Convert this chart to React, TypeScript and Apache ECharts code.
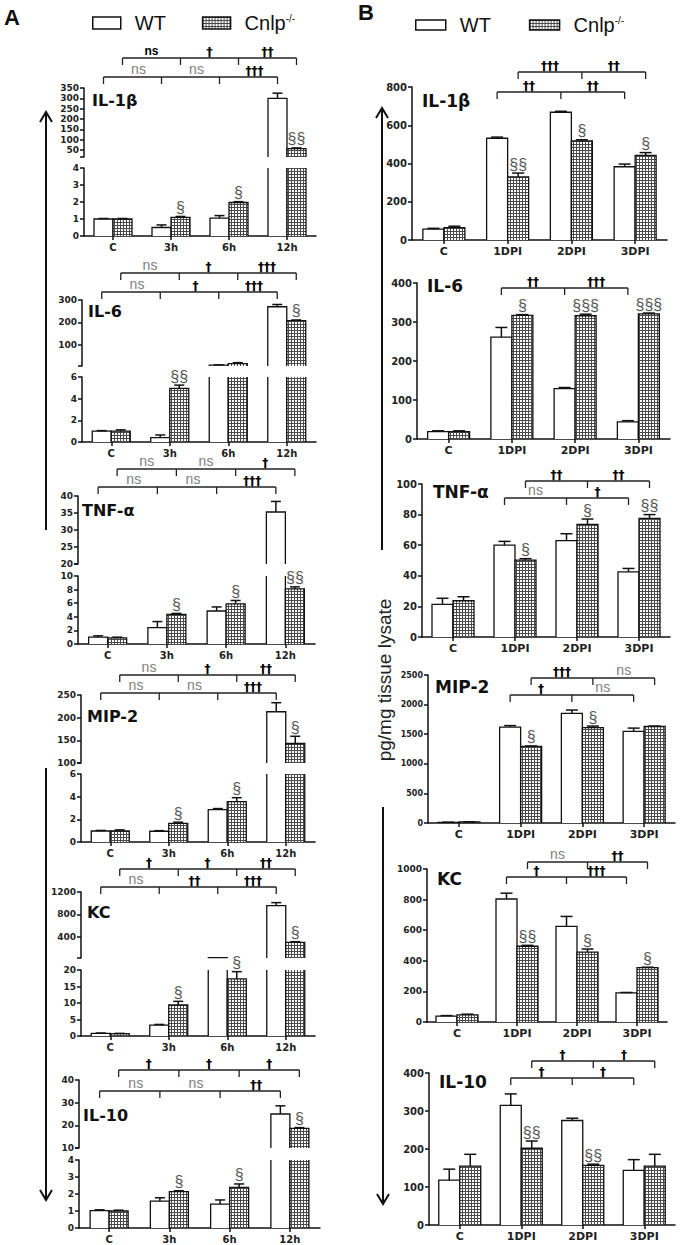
import React, { useEffect, useRef } from 'react';
import * as echarts from 'echarts';

// ---------------- categories ----------------
const catsA = ['C', '3h', '6h', '12h'];
const catsB = ['C', '1DPI', '2DPI', '3DPI'];

// ---------------- Panel A values ----------------
const aIl1bWT = [1.0, 0.5, 1.05, 300];
const aIl1bWTErr = [0.03, 0.15, 0.15, 25];
const aIl1bKO = [1.0, 1.1, 1.97, 57];
const aIl1bKOErr = [0.03, 0.05, 0.05, 3];
const aIl1bSig = ['', '§', '§', '§§'];
const aIl1bUpper = ['ns', '†', '††'];
const aIl1bLower = ['ns', 'ns', '†††'];
const aIl1bTicksU = [50, 100, 150, 200, 250, 300, 350];
const aIl1bTicksL = [0, 1, 2, 3, 4];

const aIl6WT = [1.0, 0.4, 10, 270];
const aIl6WTErr = [0.05, 0.25, 1, 10];
const aIl6KO = [1.0, 4.95, 17, 208];
const aIl6KOErr = [0.12, 0.3, 4, 3];
const aIl6Sig = ['', '§§', '', '§'];
const aIl6Upper = ['ns', '†', '†††'];
const aIl6Lower = ['ns', '†', '†††'];
const aIl6TicksU = [100, 200, 300];
const aIl6TicksL = [0, 2, 4, 6];

const aTnfWT = [1.0, 2.4, 4.85, 35.3];
const aTnfWTErr = [0.2, 0.9, 0.6, 3.1];
const aTnfKO = [0.9, 4.35, 5.9, 8.1];
const aTnfKOErr = [0.1, 0.15, 0.5, 0.3];
const aTnfSig = ['', '§', '§', '§§'];
const aTnfUpper = ['ns', 'ns', '†'];
const aTnfLower = ['ns', 'ns', '†††'];
const aTnfTicksU = [20, 25, 30, 35, 40];
const aTnfTicksL = [0, 2, 4, 6, 8, 10];

const aMip2WT = [0.97, 0.95, 2.85, 213];
const aMip2WTErr = [0.05, 0.05, 0.1, 20];
const aMip2KO = [0.97, 1.65, 3.56, 143];
const aMip2KOErr = [0.1, 0.1, 0.35, 16];
const aMip2Sig = ['', '§', '§', '§'];
const aMip2Upper = ['ns', '†', '††'];
const aMip2Lower = ['ns', 'ns', '†††'];
const aMip2TicksU = [100, 150, 200, 250];
const aMip2TicksL = [0, 2, 4, 6];

const aKcWT = [0.8, 3.3, 25, 955];
const aKcWTErr = [0.1, 0.2, 0, 55];
const aKcKO = [0.7, 9.4, 17.3, 300];
const aKcKOErr = [0.1, 1.1, 2.2, 12];
const aKcSig = ['', '§', '§', '§'];
const aKcUpper = ['†', '†', '††'];
const aKcLower = ['ns', '††', '†††'];
const aKcTicksU = [400, 800, 1200];
const aKcTicksL = [0, 5, 10, 15, 20];

const aIl10WT = [1.02, 1.58, 1.4, 25];
const aIl10WTErr = [0.05, 0.2, 0.25, 3.6];
const aIl10KO = [1.0, 2.14, 2.39, 18.7];
const aIl10KOErr = [0.05, 0.05, 0.2, 0.3];
const aIl10Sig = ['', '§', '§', '§'];
const aIl10Upper = ['†', '†', '†'];
const aIl10Lower = ['ns', 'ns', '††'];
const aIl10TicksU = [10, 20, 30, 40];
const aIl10TicksL = [0, 1, 2, 3, 4];

// ---------------- Panel B values ----------------
const bIl1bWT = [57, 532, 668, 383];
const bIl1bWTErr = [4, 6, 5, 14];
const bIl1bKO = [65, 330, 518, 442];
const bIl1bKOErr = [7, 20, 6, 15];
const bIl1bSig = ['', '§§', '§', '§'];
const bIl1bUpper = ['†††', '††'];
const bIl1bLower = ['††', '††'];
const bIl1bTicks = [0, 200, 400, 600, 800];

const bIl6WT = [19, 261, 129, 44];
const bIl6WTErr = [2, 25, 3, 3];
const bIl6KO = [19, 317, 316, 321];
const bIl6KOErr = [2, 2, 4, 2];
const bIl6Sig = ['', '§', '§§§', '§§§'];
const bIl6Lower = ['††', '†††'];
const bIl6Ticks = [0, 100, 200, 300, 400];

const bTnfWT = [21.3, 60, 63, 42.6];
const bTnfWTErr = [4, 2.5, 4.5, 2.2];
const bTnfKO = [23.7, 50.2, 73.6, 77.5];
const bTnfKOErr = [2.6, 1, 3.5, 2.5];
const bTnfSig = ['', '§', '§', '§§'];
const bTnfUpper = ['††', '††'];
const bTnfLower = ['ns', '†'];
const bTnfTicks = [0, 20, 40, 60, 80, 100];

const bMip2WT = [12, 1620, 1853, 1548];
const bMip2WTErr = [2, 25, 55, 55];
const bMip2KO = [18, 1293, 1612, 1630];
const bMip2KOErr = [3, 8, 25, 8];
const bMip2Sig = ['', '§', '§', ''];
const bMip2Upper = ['†††', 'ns'];
const bMip2Lower = ['†', 'ns'];
const bMip2Ticks = [0, 500, 1000, 1500, 2000, 2500];

const bKcWT = [39, 804, 625, 190];
const bKcWTErr = [3, 38, 65, 3];
const bKcKO = [46, 495, 457, 355];
const bKcKOErr = [5, 6, 20, 3];
const bKcSig = ['', '§§', '§', '§'];
const bKcUpper = ['ns', '††'];
const bKcLower = ['†', '†††'];
const bKcTicks = [0, 200, 400, 600, 800, 1000];

const bIl10WT = [118, 315, 275, 144];
const bIl10WTErr = [29, 30, 6, 28];
const bIl10KO = [155, 202, 157, 155];
const bIl10KOErr = [31, 19, 3, 31];
const bIl10Sig = ['', '§§', '§§', ''];
const bIl10Upper = ['†', '†'];
const bIl10Lower = ['†', '†'];
const bIl10Ticks = [0, 100, 200, 300, 400];

// ---------------- chart definitions ----------------
const chartsA = [
  { title: 'IL-1β', wt: aIl1bWT, wtErr: aIl1bWTErr, ko: aIl1bKO, koErr: aIl1bKOErr, sig: aIl1bSig, upper: aIl1bUpper, lower: aIl1bLower, strong: [0], tU: aIl1bTicksU, tL: aIl1bTicksL },
  { title: 'IL-6', wt: aIl6WT, wtErr: aIl6WTErr, ko: aIl6KO, koErr: aIl6KOErr, sig: aIl6Sig, upper: aIl6Upper, lower: aIl6Lower, strong: [], tU: aIl6TicksU, tL: aIl6TicksL },
  { title: 'TNF-α', wt: aTnfWT, wtErr: aTnfWTErr, ko: aTnfKO, koErr: aTnfKOErr, sig: aTnfSig, upper: aTnfUpper, lower: aTnfLower, strong: [], tU: aTnfTicksU, tL: aTnfTicksL },
  { title: 'MIP-2', wt: aMip2WT, wtErr: aMip2WTErr, ko: aMip2KO, koErr: aMip2KOErr, sig: aMip2Sig, upper: aMip2Upper, lower: aMip2Lower, strong: [], tU: aMip2TicksU, tL: aMip2TicksL },
  { title: 'KC', wt: aKcWT, wtErr: aKcWTErr, ko: aKcKO, koErr: aKcKOErr, sig: aKcSig, upper: aKcUpper, lower: aKcLower, strong: [], tU: aKcTicksU, tL: aKcTicksL },
  { title: 'IL-10', wt: aIl10WT, wtErr: aIl10WTErr, ko: aIl10KO, koErr: aIl10KOErr, sig: aIl10Sig, upper: aIl10Upper, lower: aIl10Lower, strong: [], tU: aIl10TicksU, tL: aIl10TicksL },
];

const chartsB = [
  { title: 'IL-1β', wt: bIl1bWT, wtErr: bIl1bWTErr, ko: bIl1bKO, koErr: bIl1bKOErr, sig: bIl1bSig, upper: bIl1bUpper, lower: bIl1bLower, ticks: bIl1bTicks },
  { title: 'IL-6', wt: bIl6WT, wtErr: bIl6WTErr, ko: bIl6KO, koErr: bIl6KOErr, sig: bIl6Sig, upper: null, lower: bIl6Lower, ticks: bIl6Ticks },
  { title: 'TNF-α', wt: bTnfWT, wtErr: bTnfWTErr, ko: bTnfKO, koErr: bTnfKOErr, sig: bTnfSig, upper: bTnfUpper, lower: bTnfLower, ticks: bTnfTicks },
  { title: 'MIP-2', wt: bMip2WT, wtErr: bMip2WTErr, ko: bMip2KO, koErr: bMip2KOErr, sig: bMip2Sig, upper: bMip2Upper, lower: bMip2Lower, ticks: bMip2Ticks },
  { title: 'KC', wt: bKcWT, wtErr: bKcWTErr, ko: bKcKO, koErr: bKcKOErr, sig: bKcSig, upper: bKcUpper, lower: bKcLower, ticks: bKcTicks },
  { title: 'IL-10', wt: bIl10WT, wtErr: bIl10WTErr, ko: bIl10KO, koErr: bIl10KOErr, sig: bIl10Sig, upper: bIl10Upper, lower: bIl10Lower, ticks: bIl10Ticks },
];

// ---------------- layout (pixels) ----------------
const layoutA = [
  { left: 84, right: 316, tx: 92, ty: 102, brk: [58, 77], segs: [{ top: 88, bottom: 157, min: 16, max: 350 }, { top: 168, bottom: 236, min: 0, max: 4 }] },
  { left: 82, right: 316, tx: 88, ty: 313, brk: [273, 292], segs: [{ top: 300, bottom: 366, min: 6, max: 300 }, { top: 377, bottom: 442, min: 0, max: 6 }] },
  { left: 78, right: 315, tx: 82, ty: 512, brk: [469, 487], segs: [{ top: 496, bottom: 564, min: 20, max: 40 }, { top: 576, bottom: 644, min: 0, max: 10 }] },
  { left: 81, right: 315, tx: 87, ty: 718, brk: [675, 693], segs: [{ top: 695, bottom: 763, min: 100, max: 250 }, { top: 774, bottom: 842, min: 0, max: 6 }] },
  { left: 81, right: 315, tx: 87, ty: 914, brk: [869, 887], segs: [{ top: 892, bottom: 958, min: 20, max: 1200 }, { top: 970, bottom: 1036, min: 0, max: 20 }] },
  { left: 79, right: 320, tx: 83, ty: 1117, brk: [1070, 1091], segs: [{ top: 1080, bottom: 1148, min: 10, max: 40 }, { top: 1160, bottom: 1228, min: 0, max: 4 }] },
];

const layoutB = [
  { left: 412, right: 667, tx: 422, ty: 102, brk: [72, 92], fs: 10, seg: { top: 87, bottom: 240, min: 0, max: 800 } },
  { left: 417, right: 670, tx: 427, ty: 287, brk: [0, 288], fs: 10, seg: { top: 283, bottom: 439, min: 0, max: 400 } },
  { left: 422, right: 670, tx: 433, ty: 493, brk: [481, 498], fs: 10, seg: { top: 484, bottom: 637, min: 0, max: 100 } },
  { left: 428, right: 675, tx: 435, ty: 688, brk: [678, 695], fs: 8, seg: { top: 675, bottom: 823, min: 0, max: 2500 } },
  { left: 427, right: 667, tx: 437, ty: 880, brk: [862, 877], fs: 9, seg: { top: 869, bottom: 1022, min: 0, max: 1000 } },
  { left: 429, right: 675, tx: 439, ty: 1083, brk: [1061, 1078], fs: 10, seg: { top: 1073, bottom: 1225, min: 0, max: 400 } },
];

const FONT_AX = 'DejaVu Sans';
const FONT_TXT = 'Liberation Sans';
const INK = '#111';

function makePattern(): any {
  const c = document.createElement('canvas');
  c.width = 3;
  c.height = 3;
  const ctx = c.getContext('2d') as CanvasRenderingContext2D;
  ctx.fillStyle = '#ffffff';
  ctx.fillRect(0, 0, 3, 3);
  ctx.fillStyle = '#4a4a4a';
  ctx.fillRect(0, 0, 3, 1);
  ctx.fillRect(0, 0, 1, 3);
  return { image: c.toDataURL(), repeat: 'repeat', imageWidth: 3, imageHeight: 3 };
}

function txt(text: string, x: number, y: number, o: any) {
  return {
    type: 'text', x, y,
    style: Object.assign({ text, fill: INK, fontFamily: FONT_TXT, fontSize: 12, align: 'center', textAlign: 'center', verticalAlign: 'bottom', textVerticalAlign: 'bottom' }, o),
  };
}

function barSeries(name: string, gi: number, vals: number[], errs: number[], sigs: string[] | null, side: number, seg: any, fill: any, bw: number, cap: number) {
  return {
    type: 'custom', name, xAxisIndex: gi, yAxisIndex: gi, silent: true,
    itemStyle: { color: fill, borderColor: INK, borderWidth: 1.3 },
    data: vals.map((v, i) => [i, v, errs[i]]),
    encode: { x: 0, y: 1 },
    renderItem: (params: any, api: any) => {
      const i = api.value(0);
      const v = api.value(1);
      const e = api.value(2);
      if (!(v > seg.min)) return null;
      const base = Math.max(seg.min, 0);
      const top = Math.min(v, seg.max);
      const pb = api.coord([i, base]);
      const pt = api.coord([i, top]);
      const cx = pb[0] + side * bw / 2;
      const x0 = cx - bw / 2;
      const x1 = cx + bw / 2;
      const ln = { stroke: INK, lineWidth: 1.3 };
      const children: any[] = [
        { type: 'rect', shape: { x: x0, y: pt[1], width: bw, height: pb[1] - pt[1] }, style: { fill, stroke: null } },
      ];
      if (v <= seg.max) {
        children.push({ type: 'polyline', shape: { points: [[x0, pb[1]], [x0, pt[1]], [x1, pt[1]], [x1, pb[1]]] }, style: { stroke: INK, lineWidth: 1.3, fill: null } });
        let yTop = pt[1];
        if (e > 0) {
          const pe = api.coord([i, Math.min(v + e, seg.max)]);
          children.push({ type: 'line', shape: { x1: cx, y1: pt[1], x2: cx, y2: pe[1] }, style: { stroke: INK, lineWidth: 1.5 } });
          children.push({ type: 'line', shape: { x1: cx - cap, y1: pe[1], x2: cx + cap, y2: pe[1] }, style: { stroke: INK, lineWidth: 1.5 } });
          yTop = pe[1];
        }
        const s = sigs ? sigs[i] : '';
        if (s) children.push(txt(s, cx, yTop - 1, { fill: '#555', fontSize: 16 }));
      } else {
        children.push({ type: 'line', shape: { x1: x0, y1: pb[1], x2: x0, y2: pt[1] }, style: ln });
        children.push({ type: 'line', shape: { x1: x1, y1: pb[1], x2: x1, y2: pt[1] }, style: ln });
      }
      return { type: 'group', children };
    },
  };
}

function bracketSeries(gi: number, seg: any, specs: any[], bw: number) {
  return {
    type: 'custom', xAxisIndex: gi, yAxisIndex: gi, silent: true,
    itemStyle: { color: INK },
    data: specs.map((_, k) => [k, seg.min]),
    renderItem: (params: any, api: any) => {
      const b = specs[params.dataIndex];
      const xs = b.cats.map((c: number) => api.coord([c, seg.min])[0] + b.side * bw / 2);
      const st = { stroke: '#222', lineWidth: 1.3 };
      const children: any[] = [
        { type: 'line', shape: { x1: xs[0], y1: b.y, x2: xs[xs.length - 1], y2: b.y }, style: st },
      ];
      xs.forEach((x: number) => children.push({ type: 'line', shape: { x1: x, y1: b.y, x2: x, y2: b.y + 7 }, style: st }));
      b.labels.forEach((t: string, k: number) => {
        const mx = (xs[k] + xs[k + 1]) / 2 + (b.dx || 0);
        const strong = b.strong && b.strong.indexOf(k) >= 0;
        if (t === 'ns' && !strong) {
          children.push(txt(t, mx, b.y - 1, { fill: '#808080', fontSize: 14 }));
        } else if (t === 'ns') {
          children.push(txt(t, mx, b.y - 1, { fill: '#000', fontSize: 12, fontWeight: 'bold' }));
        } else {
          children.push(txt(t, mx, b.y, { fill: '#000', fontSize: 12, fontWeight: 'bold', fontFamily: FONT_AX }));
        }
      });
      return { type: 'group', children };
    },
  };
}

function buildOption() {
  const pattern = makePattern();
  const grids: any[] = [];
  const xAxes: any[] = [];
  const yAxes: any[] = [];
  const series: any[] = [];
  const titles: any[] = [
    { text: 'A', left: 4, top: 6, padding: 0, textStyle: { fontSize: 22, fontWeight: 'bold', fontFamily: FONT_TXT, color: INK } },
    { text: 'B', left: 358, top: 1, padding: 0, textStyle: { fontSize: 22, fontWeight: 'bold', fontFamily: FONT_TXT, color: INK } },
  ];
  let g = 0;

  const axisLineCfg = { show: true, onZero: false, lineStyle: { color: INK, width: 1.5 } };
  const tickCfg = (vals: number[]) => ({ show: true, length: 4, inside: false, lineStyle: { color: INK, width: 1.5 }, customValues: vals });
  const plain = (v: number) => String(v);

  const addGrid = (left: number, right: number, seg: any, cats: string[], showX: boolean, labels: number[], ticks: number[], yfs: number, xfs: number) => {
    grids.push({ left, top: seg.top, width: right - left, height: seg.bottom - seg.top, containLabel: false, outerBoundsMode: 'none' });
    xAxes.push({
      gridIndex: g, type: 'category', data: cats, show: showX,
      axisLine: axisLineCfg,
      axisTick: { show: true, alignWithLabel: true, length: 4, lineStyle: { color: INK, width: 1.5 } },
      axisLabel: { interval: 0, fontSize: xfs, fontWeight: 'bold', fontFamily: FONT_AX, color: '#222', margin: 6 },
      splitLine: { show: false },
    });
    yAxes.push({
      gridIndex: g, type: 'value', min: seg.min, max: seg.max,
      axisLine: axisLineCfg,
      axisTick: tickCfg(ticks),
      axisLabel: { customValues: labels, formatter: plain, fontSize: yfs, fontWeight: 'bold', fontFamily: FONT_AX, color: '#222', margin: 5 },
      splitLine: { show: false },
    });
    return g++;
  };

  chartsA.forEach((c, ci) => {
    const L = layoutA[ci];
    const [su, sl] = L.segs;
    const gu = addGrid(L.left, L.right, su, catsA, false, c.tU, [su.min, ...c.tU], 9, 10);
    const gl = addGrid(L.left, L.right, sl, catsA, true, c.tL, c.tL, 9, 10);
    [[gu, su], [gl, sl]].forEach(([gi, seg]: any) => {
      series.push(barSeries('WT', gi, c.wt, c.wtErr, null, -1, seg, '#ffffff', 19, 5));
      series.push(barSeries('Cnlp-/-', gi, c.ko, c.koErr, c.sig, 1, seg, pattern, 19, 5));
    });
    series.push(bracketSeries(gu, su, [
      { side: 1, cats: [0, 1, 2, 3], y: L.brk[0], labels: c.upper, strong: c.strong },
      { side: -1, cats: [0, 1, 2, 3], y: L.brk[1], labels: c.lower, dx: 6 },
    ], 19));
    titles.push({ text: c.title, left: L.tx, top: L.ty - 10, padding: 0, textStyle: { fontSize: 16, fontWeight: 'bold', fontFamily: FONT_AX, color: INK } });
  });

  chartsB.forEach((c, ci) => {
    const L = layoutB[ci];
    const gi = addGrid(L.left, L.right, L.seg, catsB, true, c.ticks, c.ticks, L.fs, 11);
    series.push(barSeries('WT', gi, c.wt, c.wtErr, null, -1, L.seg, '#ffffff', 21, 6));
    series.push(barSeries('Cnlp-/-', gi, c.ko, c.koErr, c.sig, 1, L.seg, pattern, 21, 6));
    const specs: any[] = [];
    if (c.upper) specs.push({ side: 1, cats: [1, 2, 3], y: L.brk[0], labels: c.upper });
    specs.push({ side: -1, cats: [1, 2, 3], y: L.brk[1], labels: c.lower });
    series.push(bracketSeries(gi, L.seg, specs, 21));
    titles.push({ text: c.title, left: L.tx, top: L.ty - 10, padding: 0, textStyle: { fontSize: 17, fontWeight: 'bold', fontFamily: FONT_AX, color: INK } });
  });

  const legendText = {
    fontSize: 20, fontFamily: FONT_TXT, color: INK, padding: [0, 0, 0, 9],
    rich: {
      n: { fontSize: 20, fontFamily: FONT_TXT, color: INK },
      s: { fontSize: 10, fontFamily: FONT_TXT, color: INK, verticalAlign: 'top' },
    },
  };
  const legendData = (bw: number) => [
    { name: 'WT', itemStyle: { color: '#ffffff', borderColor: INK, borderWidth: bw } },
    { name: 'Cnlp-/-', itemStyle: { color: pattern, borderColor: INK, borderWidth: bw } },
  ];
  const legendFmt = (name: string) => (name === 'WT' ? '{n|WT}' : '{n|Cnlp}{s|-/-}');

  const arrow = (x: number, y1: number, y2: number, up: boolean) => {
    const tip = up ? y1 : y2;
    const d = up ? 10 : -10;
    return [
      { type: 'line', shape: { x1: x, y1, x2: x, y2 }, style: { stroke: INK, lineWidth: 2 } },
      { type: 'polyline', shape: { points: [[x - 6, tip + d], [x, tip], [x + 6, tip + d]] }, style: { stroke: INK, lineWidth: 2, fill: null } },
    ];
  };

  return {
    animation: false,
    backgroundColor: '#ffffff',
    title: titles,
    legend: [
      { left: 87, top: 8, icon: 'rect', itemWidth: 28, itemHeight: 12, itemGap: 36, selectedMode: false, data: legendData(1.5), formatter: legendFmt, textStyle: legendText },
      { left: 410, top: 10, icon: 'rect', itemWidth: 30, itemHeight: 10, itemGap: 38, selectedMode: false, data: legendData(1.5), formatter: legendFmt, textStyle: legendText },
    ],
    grid: grids,
    xAxis: xAxes,
    yAxis: yAxes,
    series,
    graphic: [
      ...arrow(46, 112, 530, true),
      ...arrow(46, 768, 1200, false),
      ...arrow(382, 108, 550, true),
      ...arrow(383, 807, 1204, false),
      {
        type: 'text', x: 384, y: 680, rotation: Math.PI / 2,
        style: { text: 'pg/mg tissue lysate', fill: '#222', fontSize: 19, fontFamily: FONT_TXT, align: 'center', textAlign: 'center', verticalAlign: 'middle', textVerticalAlign: 'middle' },
      },
    ],
  };
}

export default function App() {
  const ref = useRef<HTMLDivElement>(null);
  useEffect(() => {
    if (!ref.current) return;
    const chart = echarts.init(ref.current, null, { renderer: 'svg' });
    chart.setOption(buildOption() as any);
    return () => chart.dispose();
  }, []);
  return <div ref={ref} style={{ position: 'absolute', left: 0, top: 0, width: 684, height: 1245, background: '#fff' }} />;
}
